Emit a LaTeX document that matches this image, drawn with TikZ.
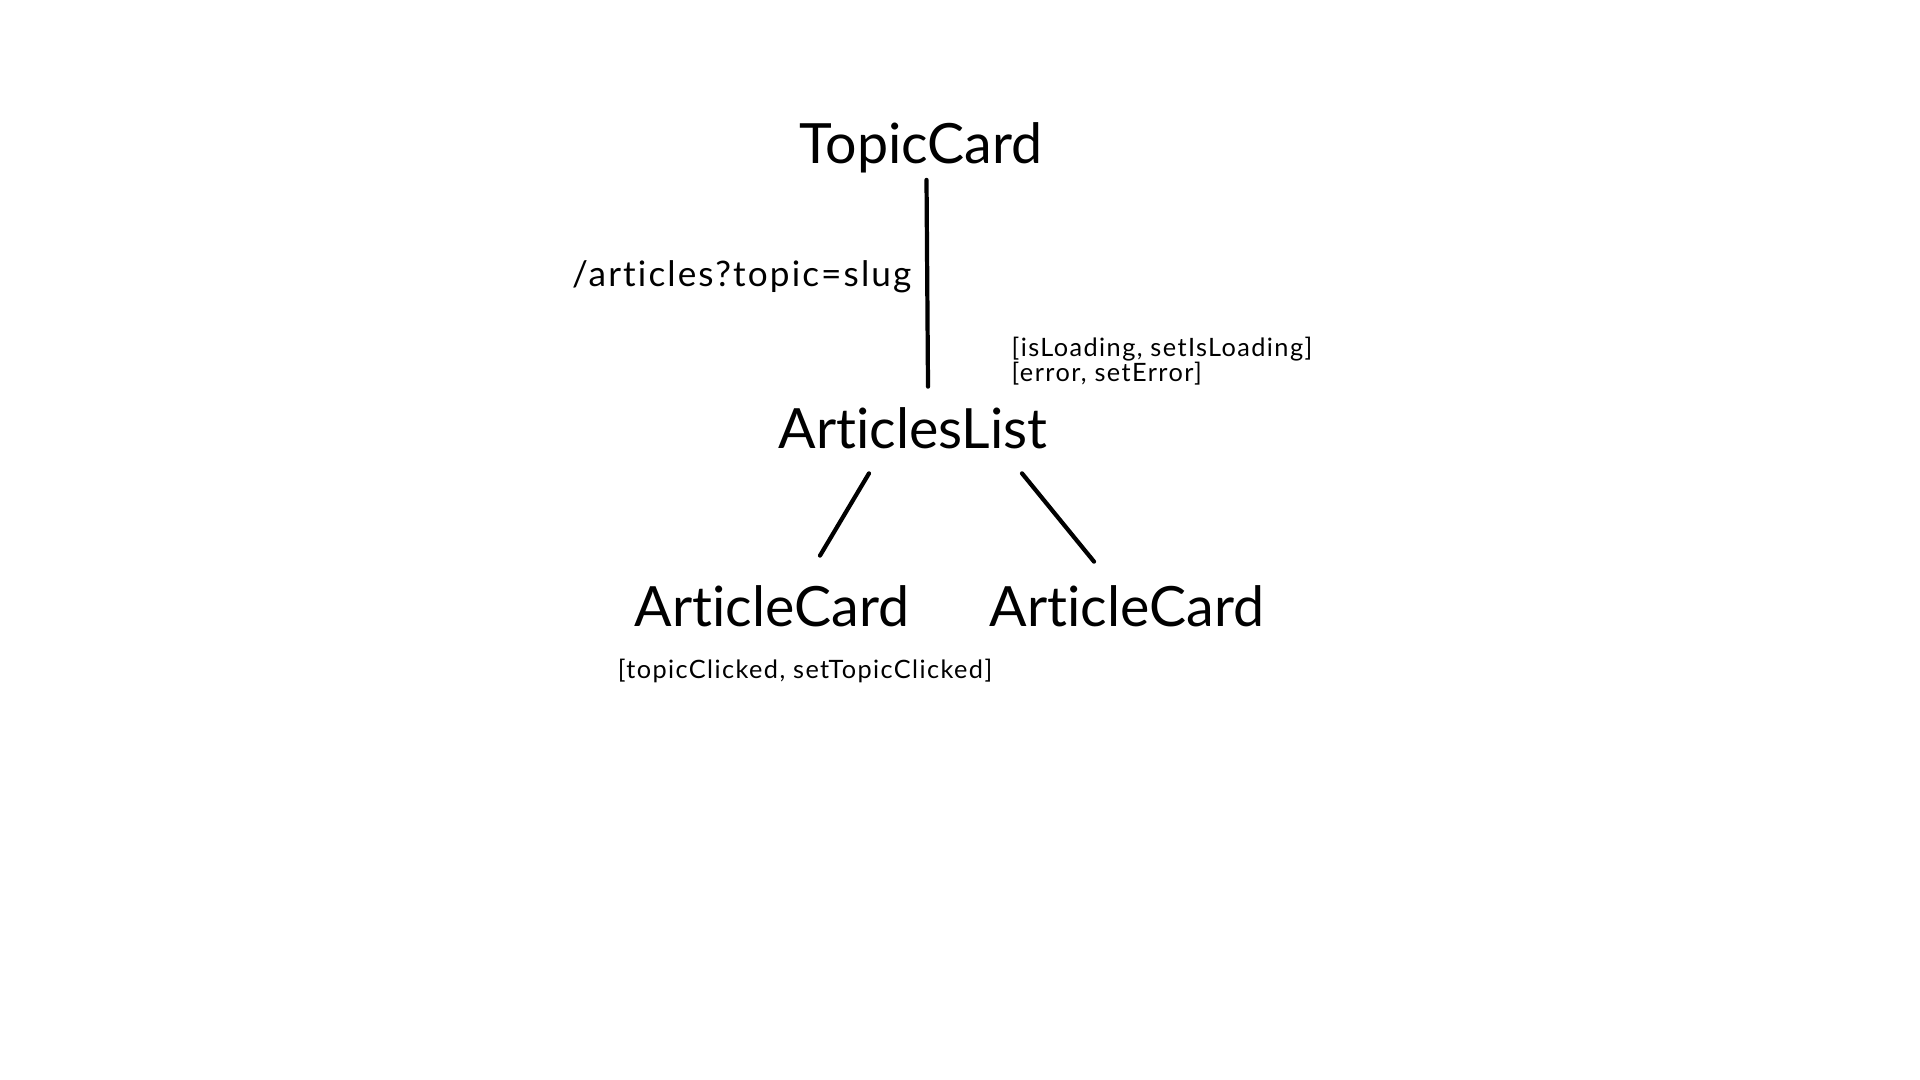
\documentclass[tikz,border=0pt]{standalone}
\usepackage{fontspec}
\setmainfont{Lato}[Ligatures=NoCommon]
\usetikzlibrary{positioning}

\begin{document}
\begin{tikzpicture}[
    comp/.style={inner sep=0pt, font=\fontsize{15.8}{19}\selectfont},
    note/.style={inner sep=0pt, align=left, font=\fontsize{7.2}{7.2}\selectfont\addfontfeatures{LetterSpace=5.6}},
    query/.style={inner sep=0pt, font=\fontsize{10}{12}\selectfont\addfontfeatures{LetterSpace=6}},
    link/.style={line width=1.2pt, line cap=round}
]
            \useasboundingbox (0,0) rectangle (19.2,10.8);

            % components
            \node[comp] (tc) at (9.21, 9.32) {TopicCard};
            \node[comp] (al) at (9.13, 6.52) {ArticlesList};
            \node[comp] (acl) at (7.72, 4.74) {ArticleCard};
            \node[comp] (acr) at (11.27, 4.74) {ArticleCard};

            % state and fetch labels
            \node[query, anchor=east] (q) at (9.12, 8.03) {/articles?topic=slug};
            \node[note, anchor=west] (st) at (10.11, 7.19) {[isLoading, setIsLoading]\\{}[error, setError]};
            \node[note] (tcs) at (8.05, 4.09) {[topicClicked, setTopicClicked]};

            \draw[link] ([xshift=0.55mm, yshift=-0.6mm]tc.south) -- ([xshift=1.5mm, yshift=2mm]al.north);
            \draw[link] ([xshift=-4.4mm, yshift=-2.4mm]al.south) -- ([xshift=4.8mm, yshift=2.9mm]acl.north);
            \draw[link] ([xshift=10.9mm, yshift=-2.4mm]al.south) -- ([xshift=-3.3mm, yshift=2.3mm]acr.north);

        \end{tikzpicture}
\end{document}
